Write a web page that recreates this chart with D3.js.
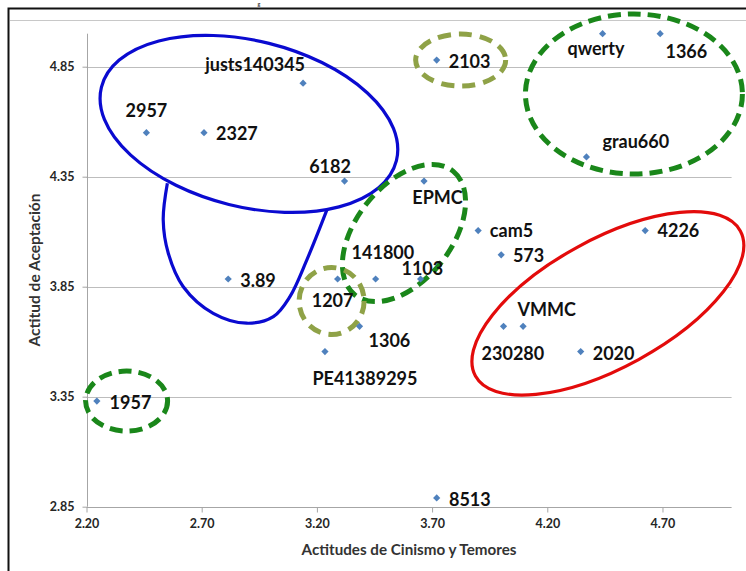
<!DOCTYPE html>
<html><head><meta charset="utf-8">
<script src="https://cdn.jsdelivr.net/npm/d3@7"></script>
<style>
html,body{margin:0;padding:0;background:#fff;}
svg{display:block;}
</style></head>
<body>
<svg id="chart" width="746" height="571"></svg>
<script>
// ---- data ----
const names = ["justs140345","2957","2327","6182","2103","qwerty","1366","grau660","EPMC","cam5","573","4226","1103","141800","1207","3.89","1306","PE41389295","VMMC","230280","2020","1957","8513"];
const cinismo = [3.14,2.46,2.71,3.32,3.72,4.44,4.69,4.37,3.665,3.90,4.00,4.625,3.65,3.455,3.29,2.815,3.385,3.235,4.095,4.01,4.345,2.245,3.72];
const aceptacion = [4.775,4.55,4.55,4.33,4.88,5.00,5.00,4.44,4.33,4.105,3.995,4.105,3.885,3.885,3.885,3.885,3.67,3.555,3.67,3.67,3.555,3.33,2.89];
const xTicks = [2.20,2.70,3.20,3.70,4.20,4.70];
const yTicks = [2.85,3.35,3.85,4.35,4.85];
const xTitle = "Actitudes de Cinismo y Temores";
const yTitle = "Actitud de Aceptación";

// ---- label placement (px offsets from the marker) ----
const labelPos = {
  "justs140345":{dx:2,dy:-12.6,a:"end"},
  "2957":{dx:0,dy:-15.6,a:"middle"},
  "2327":{dx:12,dy:7.7,a:"start"},
  "6182":{dx:6.4,dy:-7.7,a:"end"},
  "2103":{dx:12,dy:7.4,a:"start"},
  "qwerty":{dx:-6.6,dy:21,a:"middle"},
  "1366":{dx:5.3,dy:24.6,a:"start"},
  "grau660":{dx:16,dy:-9.3,a:"start"},
  "EPMC":{dx:13.5,dy:23,a:"middle"},
  "cam5":{dx:11.7,dy:6.6,a:"start"},
  "573":{dx:11.7,dy:6.7,a:"start"},
  "4226":{dx:12.3,dy:6.6,a:"start"},
  "1103":{dx:1.8,dy:-4,a:"middle"},
  "141800":{dx:7.3,dy:-20,a:"middle"},
  "1207":{dx:-5,dy:27.7,a:"middle"},
  "3.89":{dx:12,dy:7.7,a:"start"},
  "1306":{dx:9,dy:21,a:"start"},
  "PE41389295":{dx:40,dy:33.3,a:"middle"},
  "VMMC":{dx:-5.6,dy:-10,a:"start"},
  "230280":{dx:9.4,dy:33.3,a:"middle"},
  "2020":{dx:12,dy:8.3,a:"start"},
  "1957":{dx:12.7,dy:7.6,a:"start"},
  "8513":{dx:12.3,dy:8.4,a:"start"}
};

// ---- annotation shapes (centres in data units) ----
const ellipses = [
  {cx:2.905,cy:4.590,rx:152,ry:83,rot:14,color:"#0a0ad0",w:3.2,dash:null},
  {cx:4.463,cy:3.774,rx:151,ry:64,rot:-28.7,color:"#e30b0b",w:3.2,dash:null},
  {cx:3.578,cy:4.094,rx:79,ry:47.5,rot:-51.6,color:"#1a871a",w:5,dash:"13,7"},
  {cx:4.576,cy:4.726,rx:108.5,ry:80,rot:0,color:"#1a871a",w:5,dash:"13,7"},
  {cx:2.374,cy:3.330,rx:41,ry:30,rot:0,color:"#1a871a",w:5,dash:"13,7"},
  {cx:3.824,cy:4.880,rx:45,ry:26,rot:0,color:"#8fa247",w:5,dash:"13,8"},
  {cx:3.264,cy:3.785,rx:32.5,ry:33.5,rot:0,color:"#8fa247",w:5,dash:"13,8"}
];
const lobeX = [2.551,2.533,2.555,2.620,2.750,2.895,3.011,3.083,3.156,3.243];
const lobeY = [4.320,4.153,4.002,3.850,3.729,3.684,3.714,3.805,3.971,4.198];

// ---- setup ----
const svg = d3.select("#chart");
const x = d3.scaleLinear().domain([2.2,5.0]).range([86.5,731.6]);
const y = d3.scaleLinear().domain([2.85,5.0]).range([506.7,33.7]);
const font = "Lato, 'Open Sans', sans-serif";

// frame
svg.append("rect").attr("x",8.5).attr("y",8.5).attr("width",760).attr("height",600)
  .attr("fill","none").attr("stroke","#111").attr("stroke-width",2);
svg.append("line").attr("x1",10).attr("x2",746).attr("y1",20.5).attr("y2",20.5)
  .attr("stroke","#c8c8c8").attr("stroke-width",1);
// remnant of the title above the frame
svg.append("text").attr("x",259).attr("y",6).attr("text-anchor","middle")
  .attr("font-family",font).attr("font-size",5.5).attr("fill","#111").text("g");

// gridlines
svg.append("g").selectAll("line").data(yTicks.slice(1)).join("line")
  .attr("x1",x(2.2)).attr("x2",x(5.0))
  .attr("y1",d=>Math.round(y(d))+0.5).attr("y2",d=>Math.round(y(d))+0.5)
  .attr("stroke","#bdbdbd").attr("stroke-width",1);

// axes
const xAxis = d3.axisBottom(x).tickValues(xTicks).tickFormat(d3.format(".2f")).tickSize(5).tickPadding(7);
const yAxis = d3.axisLeft(y).tickValues(yTicks).tickFormat(d3.format(".2f")).tickSize(5).tickPadding(8);
const gx = svg.append("g").attr("transform",`translate(0,${Math.round(y(2.85))+0.5})`).call(xAxis);
const gy = svg.append("g").attr("transform",`translate(${Math.round(x(2.2))+0.5},0)`).call(yAxis);
[gx,gy].forEach(g=>{
  g.select(".domain").attr("stroke","#a6a6a6");
  g.selectAll(".tick line").attr("stroke","#a6a6a6");
  g.selectAll(".tick text").attr("font-family",font).attr("font-weight","bold")
    .attr("font-size",12.5).attr("fill","#262626");
});
gx.select(".domain").attr("d",`M${x(2.2)},0H${x(5.0)}`);
gy.select(".domain").attr("d",`M0,${y(5.0)}V${y(2.85)}`);

// axis titles
svg.append("text").attr("x",409).attr("y",555).attr("text-anchor","middle")
  .attr("font-family",font).attr("font-weight","bold").attr("font-size",15.2)
  .attr("fill","#333").text(xTitle);
svg.append("text").attr("transform","translate(40,270) rotate(-90)").attr("text-anchor","middle")
  .attr("font-family",font).attr("font-weight","bold").attr("font-size",15.5)
  .attr("fill","#333").text(yTitle);

// annotations
const ann = svg.append("g").attr("fill","none");
ann.selectAll("ellipse").data(ellipses).join("ellipse")
  .attr("cx",0).attr("cy",0).attr("rx",d=>d.rx).attr("ry",d=>d.ry)
  .attr("transform",d=>`translate(${x(d.cx)},${y(d.cy)}) rotate(${d.rot})`)
  .attr("stroke",d=>d.color).attr("stroke-width",d=>d.w)
  .attr("stroke-dasharray",d=>d.dash);
const lobe = lobeX.map((v,i)=>[x(v),y(lobeY[i])]);
ann.append("path").attr("d",d3.line().curve(d3.curveCatmullRom.alpha(0.5))(lobe))
  .attr("stroke","#0a0ad0").attr("stroke-width",3.2);

// points
const pts = names.map((n,i)=>({n, cx:x(cinismo[i]), cy:y(aceptacion[i])}));
svg.append("g").selectAll("path").data(pts).join("path")
  .attr("d",d3.symbol(d3.symbolSquare,26)())
  .attr("transform",d=>`translate(${d.cx},${d.cy}) rotate(45)`)
  .attr("fill","#4f81bd");

// labels
svg.append("g").selectAll("text").data(pts).join("text")
  .attr("x",d=>d.cx+labelPos[d.n].dx).attr("y",d=>d.cy+labelPos[d.n].dy)
  .attr("text-anchor",d=>labelPos[d.n].a)
  .attr("font-family",font).attr("font-weight","bold").attr("font-size",18)
  .attr("fill","#111").text(d=>d.n);
</script>
</body></html>
